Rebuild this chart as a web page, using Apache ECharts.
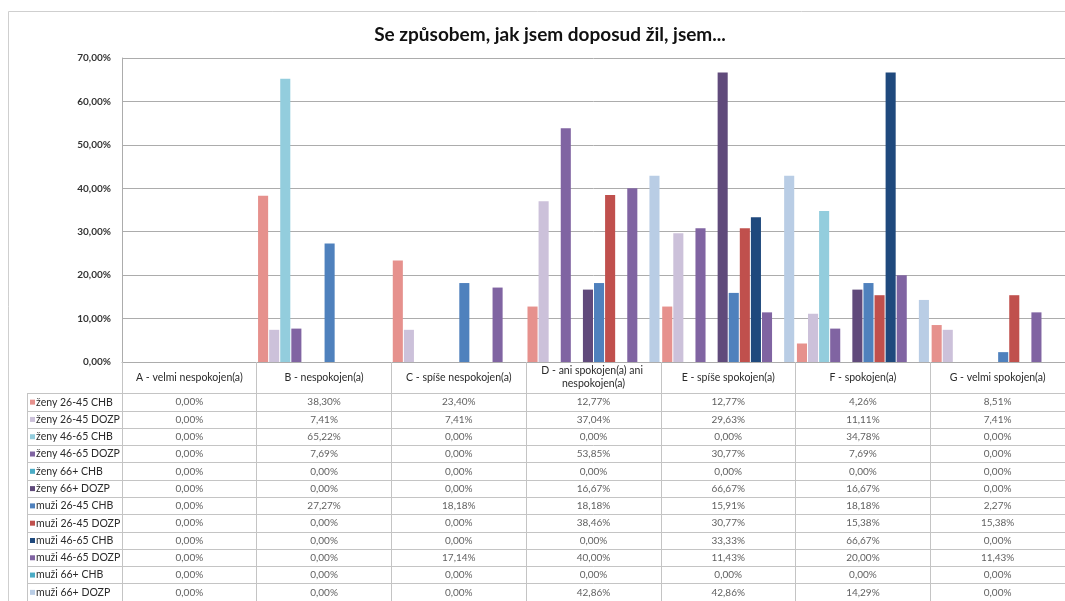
<!DOCTYPE html>
<html>
<head>
<meta charset="utf-8">
<script src="https://cdn.jsdelivr.net/npm/echarts@6/dist/echarts.min.js"></script>
<style>
  html, body { margin: 0; padding: 0; background: #fff; }
  #chart { width: 1065px; height: 601px; }
</style>
</head>
<body>
<div id="chart"></div>
<script>
// Answer categories (x axis and table columns)
const categories = [
  'A - velmi nespokojen(a)',
  'B - nespokojen(a)',
  'C - spíše nespokojen(a)',
  'D - ani spokojen(a) ani nespokojen(a)',
  'E - spíše spokojen(a)',
  'F - spokojen(a)',
  'G - velmi spokojen(a)'
];

// Respondent groups (series and table rows)
const seriesNames = [
  'ženy 26-45 CHB', 'ženy 26-45 DOZP', 'ženy 46-65 CHB', 'ženy 46-65 DOZP',
  'ženy 66+ CHB', 'ženy 66+ DOZP', 'muži 26-45 CHB', 'muži 26-45 DOZP',
  'muži 46-65 CHB', 'muži 46-65 DOZP', 'muži 66+ CHB', 'muži 66+ DOZP'
];

// Shares in percent, one array per group, in category order A..G
const zeny2645CHB  = [0, 38.30, 23.40, 12.77, 12.77, 4.26, 8.51];
const zeny2645DOZP = [0, 7.41, 7.41, 37.04, 29.63, 11.11, 7.41];
const zeny4665CHB  = [0, 65.22, 0, 0, 0, 34.78, 0];
const zeny4665DOZP = [0, 7.69, 0, 53.85, 30.77, 7.69, 0];
const zeny66CHB    = [0, 0, 0, 0, 0, 0, 0];
const zeny66DOZP   = [0, 0, 0, 16.67, 66.67, 16.67, 0];
const muzi2645CHB  = [0, 27.27, 18.18, 18.18, 15.91, 18.18, 2.27];
const muzi2645DOZP = [0, 0, 0, 38.46, 30.77, 15.38, 15.38];
const muzi4665CHB  = [0, 0, 0, 0, 33.33, 66.67, 0];
const muzi4665DOZP = [0, 0, 17.14, 40.00, 11.43, 20.00, 11.43];
const muzi66CHB    = [0, 0, 0, 0, 0, 0, 0];
const muzi66DOZP   = [0, 0, 0, 42.86, 42.86, 14.29, 0];

// Value axis ticks
const yTicks = [0, 10, 20, 30, 40, 50, 60, 70];

const seriesValues = [
  zeny2645CHB, zeny2645DOZP, zeny4665CHB, zeny4665DOZP, zeny66CHB, zeny66DOZP,
  muzi2645CHB, muzi2645DOZP, muzi4665CHB, muzi4665DOZP, muzi66CHB, muzi66DOZP
];

const colors = [
  '#E6918D', '#CCC1DA', '#93CDDD', '#8064A2', '#4BACC6', '#604A7B',
  '#4F81BD', '#C0504D', '#1F497D', '#8064A2', '#4BACC6', '#B9CDE5'
];

const FONT = 'Lato, "Noto Sans", sans-serif';
const GRID_LINE = '#acacac';
const TABLE_LINE = '#c4c4c4';

const fmtPct = v => v.toFixed(2).replace('.', ',') + '%';

// Plot area and table share the same horizontal extent
const left = 122;
const width = 946;
const rowH = 17.6;

// Rich styles for the coloured keys in the row headers
const rich = { t: { fontFamily: FONT, fontSize: 10.5, color: '#2a2a2a', padding: [0, 0, 0, 1] } };
colors.forEach((c, i) => {
  rich['k' + i] = { backgroundColor: c, width: 5, height: 5 };
});

const barSeries = seriesNames.map((name, i) => ({
  name,
  type: 'bar',
  xAxisIndex: 0,
  yAxisIndex: 0,
  data: seriesValues[i],
  itemStyle: { color: colors[i] },
  barGap: '10%',
  barCategoryGap: '2%'
}));

// Table cells: [column, row, value]
const cells = [];
seriesValues.forEach((vals, r) => vals.forEach((v, c) => cells.push([c, r, v])));

const chart = echarts.init(document.getElementById('chart'), null, { renderer: 'canvas' });

chart.setOption({
  animation: false,
  backgroundColor: '#fff',
  textStyle: { fontFamily: FONT },
  title: {
    text: 'Se způsobem, jak jsem doposud žil, jsem...',
    left: 545,
    textAlign: 'center',
    top: 20,
    textStyle: { fontFamily: FONT, fontSize: 19, fontWeight: 'bold', color: '#111' }
  },
  graphic: [{
    type: 'rect',
    silent: true,
    shape: { x: 8.5, y: 11.5, width: 1200, height: 700 },
    style: { fill: 'none', stroke: '#cfcfcf', lineWidth: 1 }
  }],
  grid: [
    { left: left, top: 58, width: width, height: 304 },
    { left: left, top: 393.5, width: width, height: rowH * 12 }
  ],
  xAxis: [
    {
      gridIndex: 0,
      type: 'category',
      data: categories,
      axisLine: { lineStyle: { color: GRID_LINE } },
      axisTick: { show: true, interval: 0, length: 31.5, lineStyle: { color: TABLE_LINE } },
      axisLabel: { show: false },
      splitLine: { show: false }
    },
    {
      gridIndex: 1,
      type: 'category',
      position: 'top',
      data: categories,
      axisLine: { show: true, lineStyle: { color: TABLE_LINE } },
      axisTick: { show: false },
      splitLine: { show: true, interval: 0, lineStyle: { color: TABLE_LINE } },
      axisLabel: {
        interval: 0,
        margin: 16,
        verticalAlign: 'middle',
        width: 126,
        overflow: 'break',
        lineHeight: 13,
        fontFamily: FONT,
        fontSize: 10.5,
        color: '#2a2a2a'
      }
    }
  ],
  yAxis: [
    {
      gridIndex: 0,
      type: 'value',
      min: yTicks[0],
      max: yTicks[yTicks.length - 1],
      interval: yTicks[1] - yTicks[0],
      axisLine: { show: true, lineStyle: { color: GRID_LINE } },
      axisTick: { show: false },
      axisLabel: {
        margin: 11,
        formatter: fmtPct,
        fontFamily: FONT,
        fontSize: 10,
        fontWeight: 'bold',
        color: '#333'
      },
      splitLine: { lineStyle: { color: GRID_LINE } }
    },
    {
      gridIndex: 1,
      type: 'category',
      inverse: true,
      data: seriesNames,
      axisLine: { show: true, lineStyle: { color: TABLE_LINE } },
      axisTick: { show: true, interval: 0, length: 95, lineStyle: { color: TABLE_LINE } },
      splitLine: { show: true, interval: 0, lineStyle: { color: TABLE_LINE } },
      axisLabel: {
        interval: 0,
        align: 'left',
        margin: 92,
        formatter: (value, index) => '{k' + index + '| }{t|' + value + '}',
        rich
      }
    },
    {
      // left border of the row header column
      gridIndex: 1,
      type: 'category',
      position: 'left',
      offset: 95,
      inverse: true,
      data: seriesNames,
      axisLine: { show: true, lineStyle: { color: TABLE_LINE } },
      axisTick: { show: false },
      axisLabel: { show: false },
      splitLine: { show: false }
    }
  ],
  series: barSeries.concat([{
    name: 'tabulka',
    type: 'scatter',
    xAxisIndex: 1,
    yAxisIndex: 1,
    symbolSize: 0,
    silent: true,
    data: cells,
    label: {
      show: true,
      position: 'inside',
      formatter: p => fmtPct(p.value[2]),
      fontFamily: FONT,
      fontSize: 10,
      color: '#363636'
    }
  }])
});
</script>
</body>
</html>
